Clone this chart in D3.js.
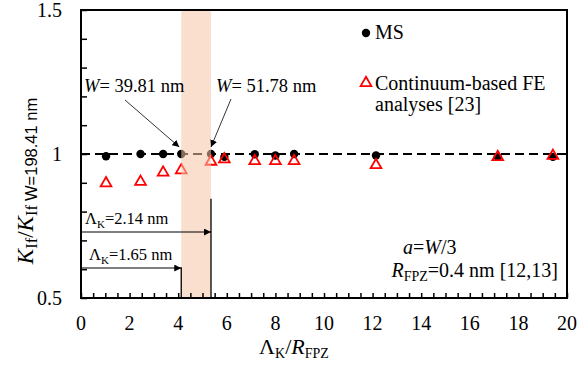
<!DOCTYPE html>
<html><head><meta charset="utf-8">
<script src="https://cdn.jsdelivr.net/npm/d3@7"></script>
</head><body style="margin:0;background:#fff">
<script>
// ---- data ----
const xVals = [1.03, 2.45, 3.38, 4.125, 5.35, 5.9, 7.15, 8.0, 8.77, 12.14, 17.15, 19.42];
const msVals = [0.992, 1.0, 1.0, 1.0, 1.0, 0.99, 0.999, 0.995, 1.0, 0.995, 0.99, 0.99];
const feVals = [0.902, 0.907, 0.939, 0.947, 0.977, 0.985, 0.979, 0.979, 0.979, 0.965, 0.993, 0.997];
const xTicks = [0, 2, 4, 6, 8, 10, 12, 14, 16, 18, 20];
const yTickLabels = [0.5, 1, 1.5];
const bandRange = [4.125, 5.35];      // Λ_K = 1.65 nm and 2.14 nm over R_FPZ
const lambdaArrows = [{x: 4.125, y: 0.604, top: 0.607, label: "1.65"}, {x: 5.35, y: 0.729, top: 0.845, label: "2.14"}];
const wNotes = [{label: "39.81 nm", px: 4.125, py: 1.0}, {label: "51.78 nm", px: 5.35, py: 1.0}];

const W = 580, H = 367;
const m = {l: 81, r: 567, t: 10, b: 298};
const SERIF = "Liberation Serif";
const SANS = "Liberation Sans";

const svg = d3.select("body").append("svg").attr("width", W).attr("height", H).style("display", "block");
const x = d3.scaleLinear().domain([0, 20]).range([m.l, m.r]);
const y = d3.scaleLinear().domain([0.5, 1.5]).range([m.b, m.t]);

function txt(sel, px, py, size) {
  return sel.append("text").attr("x", px).attr("y", py)
    .style("font-family", SERIF).style("font-size", size + "px").attr("fill", "#000");
}

const defs = svg.append("defs");
defs.append("marker").attr("id", "ah").attr("viewBox", "0 0 10 10").attr("refX", 10).attr("refY", 5)
  .attr("markerWidth", 7).attr("markerHeight", 7).attr("markerUnits", "userSpaceOnUse").attr("orient", "auto")
  .append("path").attr("d", "M0,0 L10,5 L0,10 Z").attr("fill", "#000");

// reference dashed line
svg.append("line").attr("x1", x(0)).attr("x2", x(20)).attr("y1", y(1)).attr("y2", y(1))
  .attr("stroke", "#000").attr("stroke-width", 2).attr("stroke-dasharray", "9,5");

// MS circles
svg.append("g").selectAll("circle").data(xVals).join("circle")
  .attr("cx", d => x(d)).attr("cy", (d, i) => y(msVals[i])).attr("r", 4.2).attr("fill", "#000");

// FE triangles
const tri = d3.symbol().type(d3.symbolTriangle).size(50);
svg.append("g").selectAll("path").data(xVals).join("path")
  .attr("d", tri).attr("transform", (d, i) => `translate(${x(d)},${y(feVals[i]) + 1})`)
  .attr("fill", "none").attr("stroke", "#ff0000").attr("stroke-width", 1.8);

// band
svg.append("rect").attr("x", x(bandRange[0])).attr("width", x(bandRange[1]) - x(bandRange[0]))
  .attr("y", m.t).attr("height", m.b - m.t).attr("fill", "#f5c4a8").attr("opacity", 0.55);

// Lambda arrows & verticals
lambdaArrows.forEach(a => {
  svg.append("line").attr("x1", x(a.x)).attr("x2", x(a.x)).attr("y1", y(a.top)).attr("y2", y(0.5))
    .attr("stroke", "#000").attr("stroke-width", 1.3);
  svg.append("line").attr("x1", x(0)).attr("x2", x(a.x)).attr("y1", y(a.y)).attr("y2", y(a.y))
    .attr("stroke", "#000").attr("stroke-width", 1.1).attr("marker-end", "url(#ah)");
  const t = txt(svg, x(0) + (a.x > 5 ? 4 : 8), y(a.y) - 8, 16.5);
  t.append("tspan").text("Λ");
  t.append("tspan").style("font-size", "11px").attr("dy", 4).text("K");
  t.append("tspan").attr("dy", -4).text("=" + a.label + "  nm");
});

// W annotations
const wPos = [{tx: 84, ty: 92, sx: 125, sy: 100}, {tx: 216, ty: 92, sx: 231, sy: 99}];
wNotes.forEach((n, i) => {
  const p = wPos[i];
  const t = txt(svg, p.tx, p.ty, 18.5);
  t.append("tspan").style("font-style", "italic").text("W");
  t.append("tspan").text("= " + n.label);
  const ex = x(n.px) - (i === 0 ? 2 : 0), ey = y(n.py) - 7;
  svg.append("line").attr("x1", p.sx).attr("y1", p.sy).attr("x2", ex).attr("y2", ey)
    .attr("stroke", "#000").attr("stroke-width", 0.8).attr("marker-end", "url(#ah)");
});

// frame
svg.append("rect").attr("x", m.l).attr("y", m.t).attr("width", m.r - m.l).attr("height", m.b - m.t)
  .attr("fill", "none").attr("stroke", "#000").attr("stroke-width", 2);

// ticks
const xAxis = d3.axisBottom(x).tickValues(d3.range(0, 20.01, 0.5)).tickSize(-5).tickFormat("");
svg.append("g").attr("transform", `translate(0,${m.b})`).call(xAxis)
  .call(g => g.select(".domain").remove())
  .call(g => g.selectAll("line").attr("stroke-width", 1.5));
const yAxis = d3.axisLeft(y).tickValues(d3.range(0.5, 1.501, 0.1)).tickSize(-6).tickFormat("");
svg.append("g").attr("transform", `translate(${m.l},0)`).call(yAxis)
  .call(g => g.select(".domain").remove())
  .call(g => g.selectAll("line").attr("stroke-width", 1.5));

// tick labels
const gx = svg.append("g");
xTicks.forEach(d => txt(gx, x(d), 330, 20).attr("text-anchor", "middle").text(d));
const gy = svg.append("g");
yTickLabels.forEach(d => txt(gy, 62, y(d) + 7, 20).attr("text-anchor", "end").text(d));

// x title
const xt = txt(svg, 294, 354, 22).attr("text-anchor", "middle");
xt.append("tspan").text("Λ");
xt.append("tspan").style("font-size", "14px").attr("dy", 4).text("K");
xt.append("tspan").attr("dy", -4).text("/");
xt.append("tspan").style("font-style", "italic").text("R");
xt.append("tspan").style("font-size", "14px").attr("dy", 4).text("FPZ");

// y title
const yt = txt(svg, 0, 0, 23).attr("transform", "translate(33,181) rotate(-90)").attr("text-anchor", "middle");
yt.append("tspan").style("font-style", "italic").text("K");
yt.append("tspan").style("font-size", "16.5px").attr("dy", 4).text("If");
yt.append("tspan").attr("dy", -4).text("/");
yt.append("tspan").style("font-style", "italic").text("K");
yt.append("tspan").style("font-size", "16.5px").attr("dy", 4).text("If ");
yt.append("tspan").style("font-size", "16.5px").style("font-family", SANS).text("W=198.41 nm");

// legend
svg.append("circle").attr("cx", 366).attr("cy", 33).attr("r", 4.2).attr("fill", "#000");
txt(svg, 375, 38.5, 20).text("MS");
svg.append("path").attr("d", tri).attr("transform", "translate(366,83)")
  .attr("fill", "none").attr("stroke", "#ff0000").attr("stroke-width", 1.8);
txt(svg, 375, 90, 20).text("Continuum-based FE");
txt(svg, 375, 110.5, 20).text("analyses [23]");

// bottom-right note
const n1 = txt(svg, 403, 254, 20);
n1.append("tspan").style("font-style", "italic").text("a");
n1.append("tspan").text("=");
n1.append("tspan").style("font-style", "italic").text("W");
n1.append("tspan").text("/3");
const n2 = txt(svg, 558, 276.5, 20).attr("text-anchor", "end");
n2.append("tspan").style("font-style", "italic").text("R");
n2.append("tspan").style("font-size", "14px").attr("dy", 4).text("FPZ");
n2.append("tspan").attr("dy", -4).text("=0.4 nm [12,13]");
</script>
</body></html>
